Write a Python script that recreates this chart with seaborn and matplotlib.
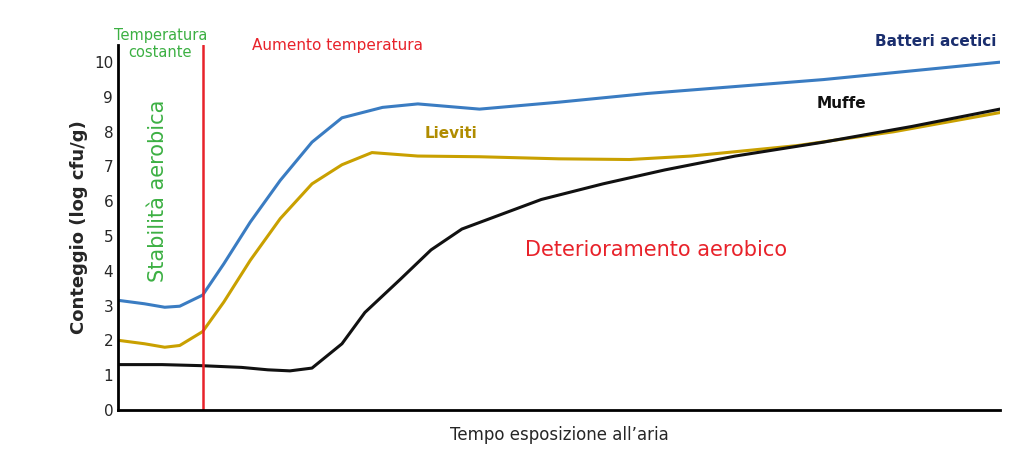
import matplotlib
matplotlib.use('Agg')
import matplotlib.pyplot as plt
import seaborn as sns
import pandas as pd
import numpy as np

sns.set_style('white')
plt.rcParams['font.family'] = ['DejaVu Sans']

# x in arbitrary time units (0-100)
bx = [0, 3, 5.3, 7, 9.6, 12, 15, 18.4, 22, 25.4, 30, 34, 41, 50, 60, 70, 80, 90, 100]
by = [3.15, 3.05, 2.95, 2.98, 3.3, 4.2, 5.4, 6.6, 7.7, 8.4, 8.7, 8.8, 8.65, 8.85, 9.1, 9.3, 9.5, 9.75, 10.0]

yx = [0, 3, 5.3, 7, 9.6, 12, 15, 18.4, 22, 25.4, 28.8, 34, 41, 50, 58, 65, 77, 88, 100]
yy = [2.0, 1.9, 1.8, 1.85, 2.25, 3.1, 4.3, 5.5, 6.5, 7.05, 7.4, 7.3, 7.28, 7.22, 7.2, 7.3, 7.6, 8.0, 8.55]

mx = [0, 5, 9.4, 14, 17, 19.5, 22, 25.4, 28, 32, 35.5, 39, 48, 55, 62, 70, 80, 90, 100]
my = [1.3, 1.3, 1.27, 1.22, 1.15, 1.12, 1.2, 1.9, 2.8, 3.75, 4.6, 5.2, 6.05, 6.5, 6.9, 7.3, 7.7, 8.15, 8.65]

series = [('Batteri acetici', bx, by, '#3a7cc2'),
          ('Lieviti', yx, yy, '#c9a000'),
          ('Muffe', mx, my, '#111111')]

fig = plt.figure(figsize=(10.35, 4.62), dpi=100)
ax = fig.add_axes([0.114, 0.113, 0.852, 0.79])
for name, x, y, c in series:
    sns.lineplot(x=x, y=y, ax=ax, color=c, lw=2.2)

ax.axvline(9.6, color='#e8222a', lw=1.8)
ax.set_xlim(0, 100)
ax.set_ylim(0, 10.5)
ax.set_yticks(range(0, 11))
ax.set_xticks([])
ax.tick_params(axis='y', labelsize=11, length=0)
for s in ['top', 'right']:
    ax.spines[s].set_visible(False)
for s in ['left', 'bottom']:
    ax.spines[s].set_color('black')
    ax.spines[s].set_linewidth(2)
ax.set_ylabel('Conteggio (log cfu/g)', fontsize=13, fontweight='bold')
ax.set_xlabel('Tempo esposizione all\u2019aria', fontsize=12, labelpad=12)

fig.text(0.155, 0.905, 'Temperatura\ncostante', color='#3cb043', fontsize=10.5, ha='center', va='center')
fig.text(0.243, 0.902, 'Aumento temperatura', color='#e8222a', fontsize=11, va='center')
fig.text(0.963, 0.91, 'Batteri acetici', color='#1a2e6e', fontsize=11, fontweight='bold', ha='right', va='center')
ax.text(37.8, 7.95, 'Lieviti', color='#b08c00', fontsize=11, fontweight='bold', ha='center', va='center')
ax.text(82, 8.8, 'Muffe', color='#111111', fontsize=11, fontweight='bold', ha='center', va='center')
ax.text(61, 4.6, 'Deterioramento aerobico', color='#e8222a', fontsize=15, ha='center', va='center')
ax.text(4.5, 6.3, 'Stabilità aerobica', color='#3cb043', fontsize=15, rotation=90, ha='center', va='center')

fig.savefig('out.png', dpi=100)
